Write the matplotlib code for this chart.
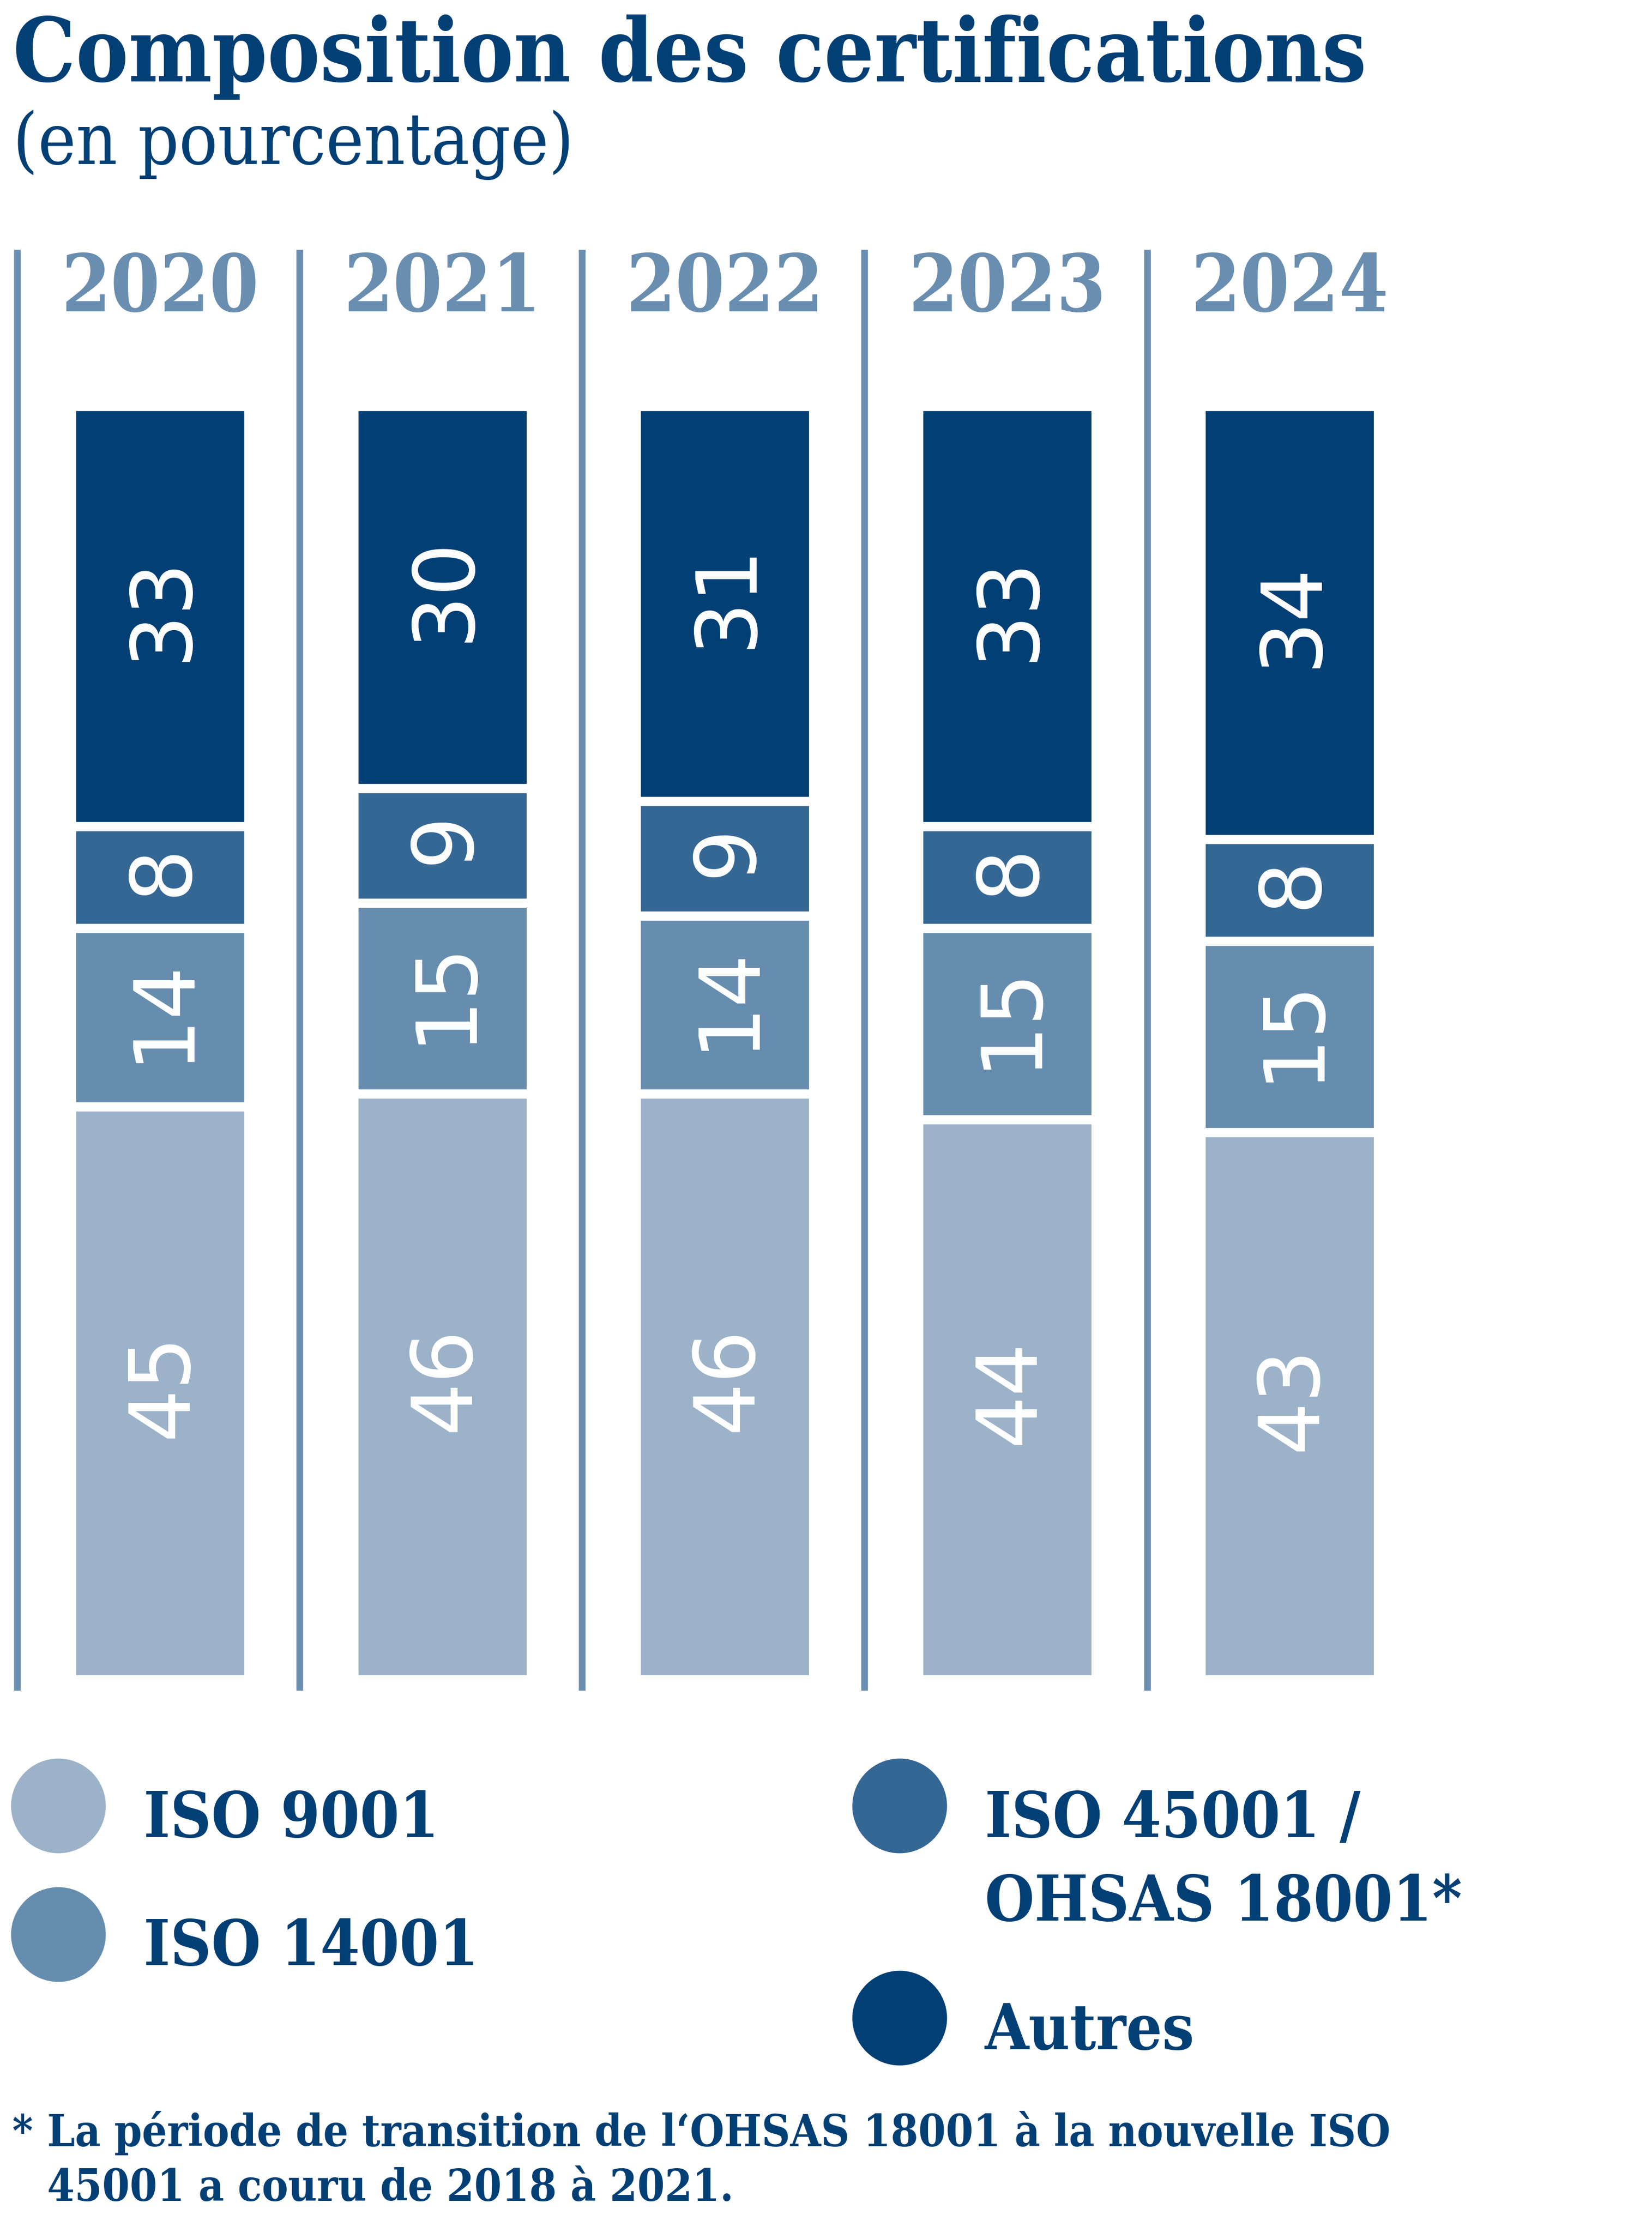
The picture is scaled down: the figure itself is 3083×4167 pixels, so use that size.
import matplotlib.pyplot as plt
from matplotlib.patches import Circle

# Data
years = ['2020', '2021', '2022', '2023', '2024']
series = ['ISO 9001', 'ISO 14001', 'ISO 45001 /\nOHSAS 18001*', 'Autres']
iso9001 = [45, 46, 46, 44, 43]
iso14001 = [14, 15, 14, 15, 15]
iso45001 = [8, 9, 9, 8, 8]
autres = [33, 30, 31, 33, 34]
values = [iso9001, iso14001, iso45001, autres]
colors = ['#9cb2c9', '#678dae', '#356794', '#023f75']

navy = '#023f75'
line_col = '#6a8eb0'
W, H = 3083, 4167
DPI = 200

serif = dict(family='DejaVu Serif', fontstretch='condensed')

fig = plt.figure(figsize=(W / DPI, H / DPI), dpi=DPI)

def fx(px):
    return px / W

def fy(py):
    return 1 - py / H

# Main axes for bars
ax = fig.add_axes([0, fy(3155), 1, fy(466) - fy(3155)])
ax.set_xlim(-0.566, 5.283)
ax.set_ylim(-0.87, 112.3)
ax.axis('off')

x = list(range(len(years)))
bottom = [0] * len(years)
for vals, col in zip(values, colors):
    ax.bar(x, vals, bottom=bottom, width=0.628, color=col,
           edgecolor='white', linewidth=6.2)
    for xi, v, b in zip(x, vals, bottom):
        ax.text(xi - 0.02, b + v / 2 + 0.6, str(v), rotation=90,
                rotation_mode='anchor', ha='center', va='center_baseline',
                color='white', fontsize=56, family='DejaVu Sans')
    bottom = [b + v for b, v in zip(bottom, vals)]

for xi in x:
    ax.axvline(xi - 0.505, color=line_col, linewidth=4.5)
    ax.text(xi, 109.2, years[xi], ha='center', va='center', color=line_col,
            fontsize=53, fontweight='bold', **serif)

# Title
fig.text(fx(24), fy(152), 'Composition des certifications', color=navy,
         fontsize=59, fontweight='bold', va='baseline', ha='left', **serif)
fig.text(fx(24), fy(306), '(en pourcentage)', color=navy,
         fontsize=48, va='baseline', ha='left', **serif)

# Legend
lax = fig.add_axes([0, 0, 1, 1])
lax.set_xlim(0, W)
lax.set_ylim(H, 0)
lax.axis('off')
leg_pos = [(109, 3370, 268, [3428]),
           (109, 3610, 268, [3667]),
           (1679, 3370, 1838, [3428, 3584]),
           (1679, 3766, 1838, [3824])]
for (cx, cy, tx, bases), name, col in zip(leg_pos, series, colors):
    lax.add_patch(Circle((cx, cy), 87, color=col))
    for line, base in zip(name.split('\n'), bases):
        lax.text(tx, base, line, color=navy, fontsize=42.5, fontweight='bold',
                 va='baseline', ha='left', **serif)

# Footnote
lax.text(22, 4005, '*', color=navy, fontsize=29.5, fontweight='bold',
         va='baseline', ha='left', **serif)
lax.text(88, 4005, 'La période de transition de l‘OHSAS 18001 à la nouvelle ISO',
         color=navy, fontsize=29.5, fontweight='bold', va='baseline', ha='left', **serif)
lax.text(88, 4107, '45001 a couru de 2018 à 2021.', color=navy, fontsize=29.5,
         fontweight='bold', va='baseline', ha='left', **serif)

fig.savefig('out.png', dpi=DPI)
